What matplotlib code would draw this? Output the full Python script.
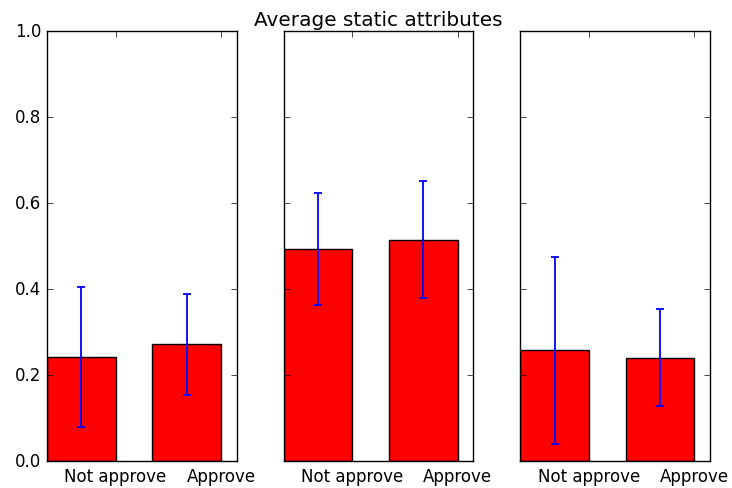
import numpy as np
import matplotlib
matplotlib.use("Agg")
import matplotlib.pyplot as plt

plt.style.use('classic')

categories = ["Not approve", "Approve"]
means = [
    [0.242, 0.271],
    [0.493, 0.515],
    [0.257, 0.240],
]
errors = [
    [0.163, 0.117],
    [0.131, 0.135],
    [0.218, 0.113],
]
title = "Average static attributes"

width = 0.65
ind = np.arange(len(categories))

fig, axes = plt.subplots(1, 3, sharey=True, figsize=(7.32, 4.89), dpi=100)
fig.patch.set_facecolor('white')
fig.subplots_adjust(left=0.0642, right=0.970, top=0.9346, bottom=0.0552, wspace=0.247)

for ax, m, e in zip(axes, means, errors):
    ax.bar(ind, m, width, color='r', edgecolor='k', align='edge',
           yerr=e, ecolor='b', capsize=3,
           error_kw=dict(elinewidth=1.3, capthick=1.3))
    ax.set_xticks(ind + width)
    ax.set_xticklabels(categories)
    ax.set_xlim(0, 1.8)
    ax.set_ylim(0, 1.0)
    ax.set_facecolor('white')

axes[1].set_title(title, pad=4)

fig.savefig("out.png", dpi=100, facecolor='white')
